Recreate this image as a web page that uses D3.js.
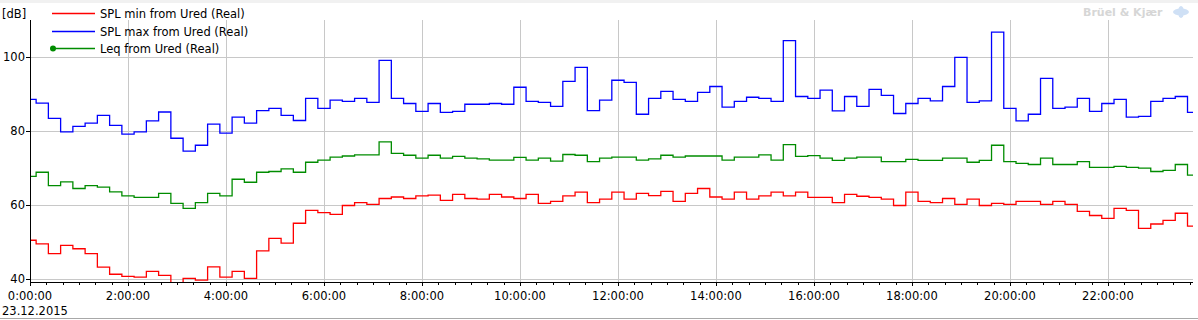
<!DOCTYPE html>
<html>
<head>
<meta charset="utf-8">
<script src="https://cdn.jsdelivr.net/npm/d3@7"></script>
<style>
  body { margin: 0; background: #fff; }
  svg text { font-family: "DejaVu Sans", sans-serif; font-size: 11.5px; fill: #000; }
</style>
</head>
<body>
<script>
// Datos: un valor cada 15 minutos desde las 0:00 del 23.12.2015
const startTime = new Date(2015, 11, 23, 0, 0, 0)
const endTime = new Date(2015, 11, 23, 23, 43, 0)
const stepMinutes = 15

const splMin = [50.5, 49.5, 46.9, 49.1, 48.2, 46.9, 43.2, 41.3, 40.7, 40.5, 42.1, 41.0,
  38.0, 40.2, 39.7, 43.3, 40.5, 42.1, 40.2, 47.6, 51.0, 49.7, 55.1, 58.6,
  58.0, 57.5, 59.9, 60.7, 60.2, 61.8, 62.2, 61.8, 62.5, 62.7, 61.3, 62.9,
  61.8, 61.6, 62.9, 62.2, 61.8, 62.9, 60.5, 61.0, 62.5, 63.5, 60.7, 61.6,
  63.5, 61.6, 63.2, 62.6, 63.7, 61.0, 63.2, 64.5, 62.2, 61.6, 63.5, 61.6,
  62.5, 63.5, 62.5, 63.5, 62.1, 62.1, 60.7, 62.9, 62.4, 62.1, 61.6, 59.9,
  63.5, 61.0, 60.7, 61.8, 60.2, 61.6, 59.9, 60.5, 60.2, 61.0, 61.0, 60.2,
  61.0, 60.2, 58.3, 57.2, 56.4, 59.1, 58.6, 53.7, 54.9, 55.9, 57.8, 54.3]

const splMax = [88.6, 87.6, 83.5, 79.8, 81.3, 82.2, 84.3, 81.6, 79.2, 79.8, 82.8, 85.2,
  78.1, 74.6, 76.2, 81.9, 79.5, 83.8, 82.2, 85.6, 86.2, 84.3, 82.9, 88.9,
  86.2, 88.4, 88.1, 88.9, 87.8, 99.2, 88.9, 87.5, 85.4, 87.5, 85.1, 85.4,
  87.3, 87.3, 87.5, 87.3, 91.9, 88.1, 87.8, 86.7, 93.5, 97.3, 85.6, 88.4,
  93.8, 93.2, 84.6, 88.9, 90.8, 88.6, 88.1, 90.5, 92.1, 86.5, 88.1, 89.2,
  88.9, 88.1, 104.5, 89.4, 88.9, 91.1, 85.5, 89.4, 86.7, 91.3, 89.7, 84.8,
  87.5, 88.9, 88.2, 92.1, 100.0, 87.8, 88.2, 106.8, 86.2, 82.8, 84.6, 94.3,
  86.2, 86.5, 88.9, 85.4, 87.5, 88.6, 83.8, 84.0, 88.1, 88.9, 89.4, 85.1]

const leq = [67.8, 68.9, 65.3, 66.3, 64.5, 65.3, 64.9, 63.6, 62.5, 62.1, 62.1, 63.2,
  60.5, 59.1, 60.7, 63.2, 62.5, 67.0, 66.2, 68.9, 69.1, 69.8, 68.9, 71.6,
  72.2, 73.0, 73.3, 73.6, 73.6, 77.1, 74.0, 73.5, 72.7, 73.5, 72.7, 73.2,
  72.7, 72.5, 72.2, 72.2, 72.9, 72.2, 72.7, 71.9, 73.7, 73.5, 71.8, 72.7,
  73.0, 73.0, 72.2, 72.5, 73.5, 73.0, 73.3, 73.3, 73.3, 72.2, 73.0, 73.0,
  73.6, 72.2, 76.4, 73.2, 73.4, 72.7, 72.1, 72.7, 73.0, 73.0, 71.8, 71.8,
  72.4, 72.1, 72.1, 72.7, 72.7, 71.6, 72.1, 76.2, 71.8, 71.3, 71.0, 72.7,
  71.0, 71.0, 71.8, 70.2, 70.2, 70.5, 70.2, 70.0, 69.1, 69.4, 71.0, 68.1]

const seriesNames = ["SPL min from Ured (Real)", "SPL max from Ured (Real)", "Leq from Ured (Real)"]
const seriesColors = ["#ff0000", "#0000ff", "#008c00"]
const yTicks = [40, 60, 80, 100]
const yUnit = "[dB]"
const dateLabel = "23.12.2015"
const brand = "Brüel & Kjær"

// Escalas
let x = d3.scaleTime().domain([startTime, endTime]).range([30, 1192])
let y = d3.scaleLinear().domain([39.2, 110.1]).range([282, 20])

let svg = d3.select("body")
        .append("svg")
        .attr("width", 1198)
        .attr("height", 320)

// Franja superior y línea inferior
svg.append("rect").attr("x", 0).attr("y", 0).attr("width", 1198).attr("height", 3).attr("fill", "#f1f1f1")
svg.append("line").attr("x1", 0).attr("x2", 1198).attr("y1", 318.5).attr("y2", 318.5)
        .attr("stroke", "#a8a8a8")

// Marca de agua
svg.append("text").attr("x", 1083).attr("y", 16)
        .style("font-weight", "bold").style("font-size", "11px").style("fill", "#d6d6d6")
        .text(brand)
svg.append("ellipse").attr("cx", 1181).attr("cy", 12).attr("rx", 8).attr("ry", 3.5).attr("fill", "#cfe0f5")
svg.append("ellipse").attr("cx", 1181).attr("cy", 12).attr("rx", 3).attr("ry", 6).attr("fill", "#cfe0f5")

let majorTicks = d3.timeHour.every(2).range(startTime, endTime)
let minorTicks = d3.timeMinute.every(20).range(startTime, endTime)

// Rejilla
let grid = svg.append("g").attr("stroke", "#c8c8c8").attr("shape-rendering", "crispEdges")
grid.selectAll("line.v").data(majorTicks).join("line")
        .attr("class", "v")
        .attr("x1", d => Math.round(x(d)) + 0.5).attr("x2", d => Math.round(x(d)) + 0.5)
        .attr("y1", 20).attr("y2", 282)
grid.selectAll("line.h").data(yTicks).join("line")
        .attr("class", "h")
        .attr("x1", 30).attr("x2", 1193)
        .attr("y1", d => Math.round(y(d)) + 0.5).attr("y2", d => Math.round(y(d)) + 0.5)

// Series
svg.append("clipPath").attr("id", "clip")
        .append("rect").attr("x", 31).attr("y", 20).attr("width", 1162).attr("height", 262)

let series = [splMin, splMax, leq]
let line = d3.line()
        .x((d, i) => x(d3.timeMinute.offset(startTime, i * stepMinutes)))
        .y(d => y(d))
        .curve(d3.curveStep)

svg.append("g").attr("clip-path", "url(#clip)")
        .selectAll("path")
        .data(series)
        .join("path")
        .attr("d", d => line(d))
        .attr("fill", "none")
        .attr("stroke", (d, i) => seriesColors[i])
        .attr("stroke-width", 1.3)

// Ejes
let axes = svg.append("g").attr("stroke", "#000").attr("shape-rendering", "crispEdges")
axes.append("line").attr("x1", 30.5).attr("x2", 30.5).attr("y1", 20).attr("y2", 282)
axes.append("line").attr("x1", 30).attr("x2", 1193).attr("y1", 282.5).attr("y2", 282.5)
axes.selectAll("line.mi").data(minorTicks).join("line")
        .attr("class", "mi")
        .attr("x1", d => Math.round(x(d)) + 0.5).attr("x2", d => Math.round(x(d)) + 0.5)
        .attr("y1", 282).attr("y2", 285)
axes.selectAll("line.ma").data(majorTicks).join("line")
        .attr("class", "ma")
        .attr("x1", d => Math.round(x(d)) + 0.5).attr("x2", d => Math.round(x(d)) + 0.5)
        .attr("y1", 282).attr("y2", 286)
axes.selectAll("line.yt").data(yTicks).join("line")
        .attr("class", "yt")
        .attr("x1", 26).attr("x2", 30)
        .attr("y1", d => Math.round(y(d)) + 0.5).attr("y2", d => Math.round(y(d)) + 0.5)

let fmt = d3.timeFormat("%-H:%M:%S")
svg.selectAll("text.xl").data(majorTicks).join("text")
        .attr("class", "xl")
        .attr("x", d => x(d)).attr("y", 300)
        .attr("text-anchor", "middle")
        .text(d => fmt(d))
svg.selectAll("text.yl").data(yTicks).join("text")
        .attr("class", "yl")
        .attr("x", 25).attr("y", d => y(d) + 4)
        .attr("text-anchor", "end")
        .text(d => d)

svg.append("text").attr("x", 2).attr("y", 18).text(yUnit)
svg.append("text").attr("x", 2).attr("y", 315).text(dateLabel)

// Leyenda
let legendY = [13.5, 31.5, 48.5]
let legend = svg.append("g")
seriesNames.forEach((name, i) => {
    legend.append("line")
            .attr("x1", 52).attr("x2", 95)
            .attr("y1", legendY[i]).attr("y2", legendY[i])
            .attr("stroke", seriesColors[i])
            .attr("stroke-width", 1.6)
    legend.append("text").attr("x", 100).attr("y", legendY[i] + 4.5).text(name)
    if (i == 2)
        legend.append("circle").attr("cx", 53).attr("cy", legendY[i]).attr("r", 3).attr("fill", seriesColors[i])
})
</script>
</body>
</html>
